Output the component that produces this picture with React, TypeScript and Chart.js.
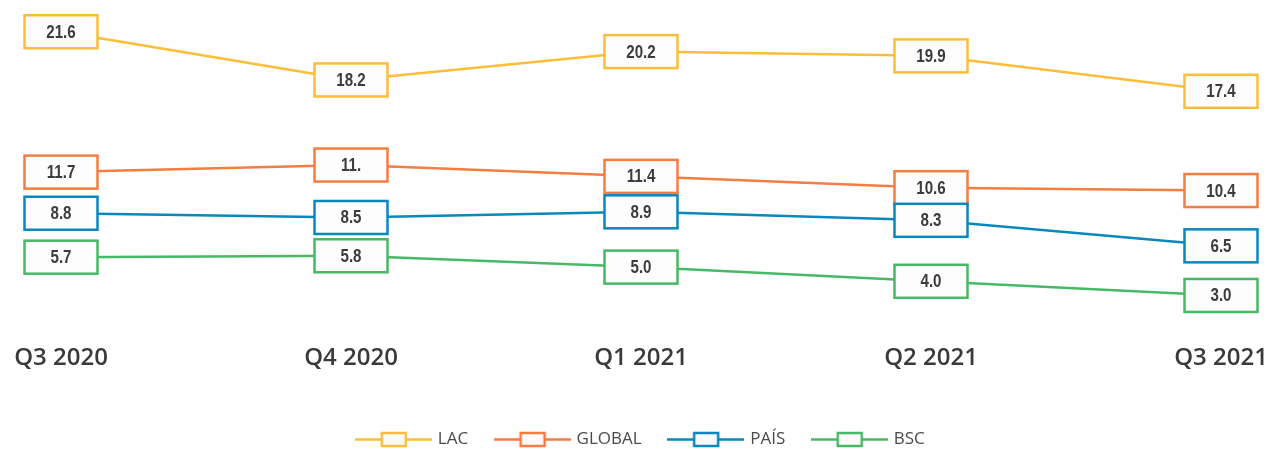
import { useEffect, useRef } from "react";
import { Chart, registerables } from "chart.js";

Chart.register(...registerables);

// ---- data ----
const categories = ["Q3 2020", "Q4 2020", "Q1 2021", "Q2 2021", "Q3 2021"];
const lacValues = [21.6, 18.2, 20.2, 19.9, 17.4];
const globalValues = [11.7, 12.2, 11.4, 10.6, 10.4];
const paisValues = [8.8, 8.5, 8.9, 8.3, 6.5];
const bscValues = [5.7, 5.8, 5.0, 4.0, 3.0];
const globalLabels = ["11.7", "11.", "11.4", "10.6", "10.4"];
const seriesNames = ["LAC", "GLOBAL", "PAÍS", "BSC"];
const seriesColors = ["#FDBD3B", "#F47D42", "#0A87BD", "#47B966"];
const yMin = 0;
const yMax = 22.5;

function fmt(values: number[]) {
  return values.map((v) => v.toFixed(1));
}

function makeIcon(color: string) {
  const c = document.createElement("canvas");
  c.width = 77;
  c.height = 17;
  const ctx = c.getContext("2d")!;
  ctx.strokeStyle = color;
  ctx.lineWidth = 2.5;
  ctx.beginPath();
  ctx.moveTo(0, 8.5);
  ctx.lineTo(77, 8.5);
  ctx.stroke();
  ctx.fillStyle = "#fbfbfb";
  ctx.fillRect(27, 2, 24, 13);
  ctx.strokeRect(27, 2, 24, 13);
  return c;
}

const boxPlugin = {
  id: "valueBoxes",
  afterDatasetsDraw(chart: any) {
    const ctx = chart.ctx;
    chart.data.datasets.forEach((ds: any, i: number) => {
      const meta = chart.getDatasetMeta(i);
      meta.data.forEach((pt: any, j: number) => {
        const w = 73;
        const h = 33;
        ctx.save();
        ctx.fillStyle = "#fdfdfd";
        ctx.strokeStyle = ds.borderColor;
        ctx.lineWidth = 2.5;
        ctx.fillRect(pt.x - w / 2, pt.y - h / 2, w, h);
        ctx.strokeRect(pt.x - w / 2, pt.y - h / 2, w, h);
        ctx.fillStyle = "#3c3c3c";
        ctx.font = "bold 18px 'Liberation Sans', Arial, sans-serif";
        ctx.textAlign = "center";
        ctx.textBaseline = "middle";
        ctx.translate(pt.x, pt.y + 1);
        ctx.scale(0.84, 1);
        ctx.fillText(ds.valueLabels[j], 0, 0);
        ctx.restore();
      });
    });
  },
};

export default function App() {
  const ref = useRef<HTMLCanvasElement | null>(null);

  useEffect(() => {
    document.body.style.margin = "0";
    const icons = seriesColors.map((c) => makeIcon(c));
    const allValues = [lacValues, globalValues, paisValues, bscValues];
    const allLabels = [fmt(lacValues), globalLabels, fmt(paisValues), fmt(bscValues)];
    const chart = new Chart(ref.current!, {
      type: "line",
      data: {
        labels: categories,
        datasets: seriesNames.map((name, i) => ({
          label: name,
          data: allValues[i],
          borderColor: seriesColors[i],
          backgroundColor: seriesColors[i],
          borderWidth: 2.5,
          pointRadius: 0,
          tension: 0,
          clip: false,
          valueLabels: allLabels[i],
        })) as any,
      },
      options: {
        animation: false,
        responsive: true,
        maintainAspectRatio: false,
        events: [],
        layout: { padding: { top: 19, left: 61, right: 50, bottom: -7 } },
        scales: {
          x: {
            grid: { display: false, drawTicks: false },
            border: { display: false },
            ticks: {
              padding: 6,
              color: "#3a3a3a",
              maxRotation: 0,
              autoSkip: false,
              font: { family: "'Open Sans', sans-serif", size: 24, weight: 600 as any },
            },
            afterFit: (s: any) => {
              s.paddingLeft = 0;
              s.paddingRight = 0;
              s.height = 65;
            },
          },
          y: { display: false, min: yMin, max: yMax },
        },
        plugins: {
          tooltip: { enabled: false },
          legend: {
            position: "bottom",
            labels: {
              usePointStyle: true,
              pointStyleWidth: 72,
              padding: 28,
              color: "#4a4a4a",
              font: { family: "'Open Sans', sans-serif", size: 17 },
              generateLabels: (ch: any) => {
                const items = Chart.defaults.plugins.legend.labels.generateLabels(ch);
                return items.map((it: any) => ({ ...it, pointStyle: icons[it.datasetIndex] }));
              },
            },
          },
        },
      },
      plugins: [boxPlugin],
    });
    const fontsToLoad = [
      "600 24px 'Open Sans'",
      "17px 'Open Sans'",
      "bold 18px 'Liberation Sans'",
    ];
    Promise.all(fontsToLoad.map((f) => document.fonts.load(f)))
      .then(() => chart.update())
      .catch(() => {});
    return () => chart.destroy();
  }, []);

  return (
    <div style={{ width: 1271, height: 451, position: "relative" }}>
      <canvas ref={ref} />
    </div>
  );
}
